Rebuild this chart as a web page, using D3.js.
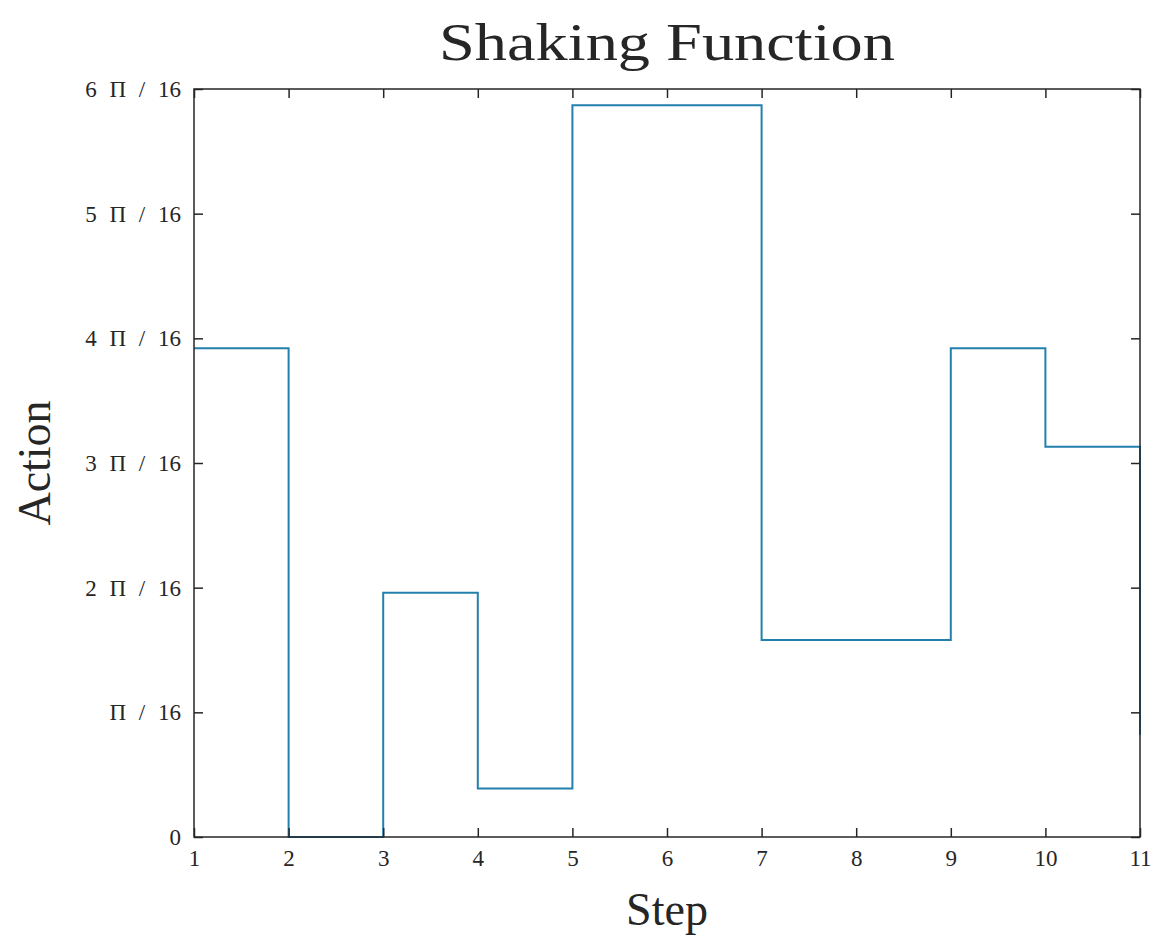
<!DOCTYPE html>
<html>
<head>
<meta charset="utf-8">
<script src="https://cdn.jsdelivr.net/npm/d3@7"></script>
<style>
  body { margin: 0; background: #fff; }
  text { font-family: "Liberation Serif", "DejaVu Serif", serif; fill: #262626; }
</style>
</head>
<body>
<svg width="1157" height="939"></svg>
<script>
// step values, in units of pi/16
const steps = [1, 2, 3, 4, 5, 6, 7, 8, 9, 10, 11];
const actions = [3.92, 0, 1.96, 0.39, 5.87, 5.87, 1.58, 1.58, 3.92, 3.13, 0.82];
const yTicks = [0, 1, 2, 3, 4, 5, 6];
const yTickLabels = ["0", "\u03A0 / 16", "2 \u03A0 / 16", "3 \u03A0 / 16", "4 \u03A0 / 16", "5 \u03A0 / 16", "6 \u03A0 / 16"];

let svg = d3.select("svg");
const plotLeft = 194, plotRight = 1140, plotTop = 89, plotBottom = 837;

let x = d3.scaleLinear().domain([1, 11]).range([plotLeft, plotRight]);
let y = d3.scaleLinear().domain([0, 6]).range([plotBottom, plotTop]);

// the stairs
let line = d3.line().x(d => x(d[0])).y(d => y(d[1])).curve(d3.curveStepAfter);
svg.append("path")
    .attr("d", line(steps.map((s, i) => [s, actions[i]])))
    .attr("fill", "none")
    .attr("stroke", "#2380ad")
    .attr("stroke-width", 2);

// axes, ticks pointing inward on all four sides
const axisStyle = g => {
    g.select(".domain").remove();
    g.selectAll(".tick line").attr("stroke", "#262626").attr("stroke-width", 1.5);
    g.selectAll(".tick text").style("font-size", "23px").style("word-spacing", "7px").attr("fill", "#333");
};

svg.append("g").attr("transform", `translate(0,${plotBottom})`)
    .call(d3.axisBottom(x).tickValues(steps).tickFormat(d3.format("d")).tickSizeInner(-9).tickPadding(13))
    .call(axisStyle);
svg.append("g").attr("transform", `translate(0,${plotTop})`)
    .call(d3.axisTop(x).tickValues(steps).tickSizeInner(-9).tickFormat(""))
    .call(axisStyle);
svg.append("g").attr("transform", `translate(${plotLeft},0)`)
    .call(d3.axisLeft(y).tickValues(yTicks).tickFormat((d, i) => yTickLabels[i]).tickSizeInner(-9).tickPadding(13))
    .call(axisStyle);
svg.append("g").attr("transform", `translate(${plotRight},0)`)
    .call(d3.axisRight(y).tickValues(yTicks).tickSizeInner(-9).tickFormat(""))
    .call(axisStyle);

// box
svg.append("rect")
    .attr("x", plotLeft).attr("y", plotTop)
    .attr("width", plotRight - plotLeft).attr("height", plotBottom - plotTop)
    .attr("fill", "none").attr("stroke", "#262626").attr("stroke-width", 1.5);

// title and labels
svg.append("text")
    .attr("x", (plotLeft + plotRight) / 2).attr("y", 60)
    .attr("text-anchor", "middle")
    .attr("textLength", 456).attr("lengthAdjust", "spacingAndGlyphs")
    .style("font-size", "52px")
    .attr("fill", "#1a1a1a")
    .text("Shaking Function");

svg.append("text")
    .attr("x", (plotLeft + plotRight) / 2).attr("y", 925)
    .attr("text-anchor", "middle")
    .style("font-size", "46px")
    .text("Step");

svg.append("text")
    .attr("transform", `translate(50,${(plotTop + plotBottom) / 2}) rotate(-90)`)
    .attr("text-anchor", "middle")
    .style("font-size", "46px")
    .text("Action");
</script>
</body>
</html>
